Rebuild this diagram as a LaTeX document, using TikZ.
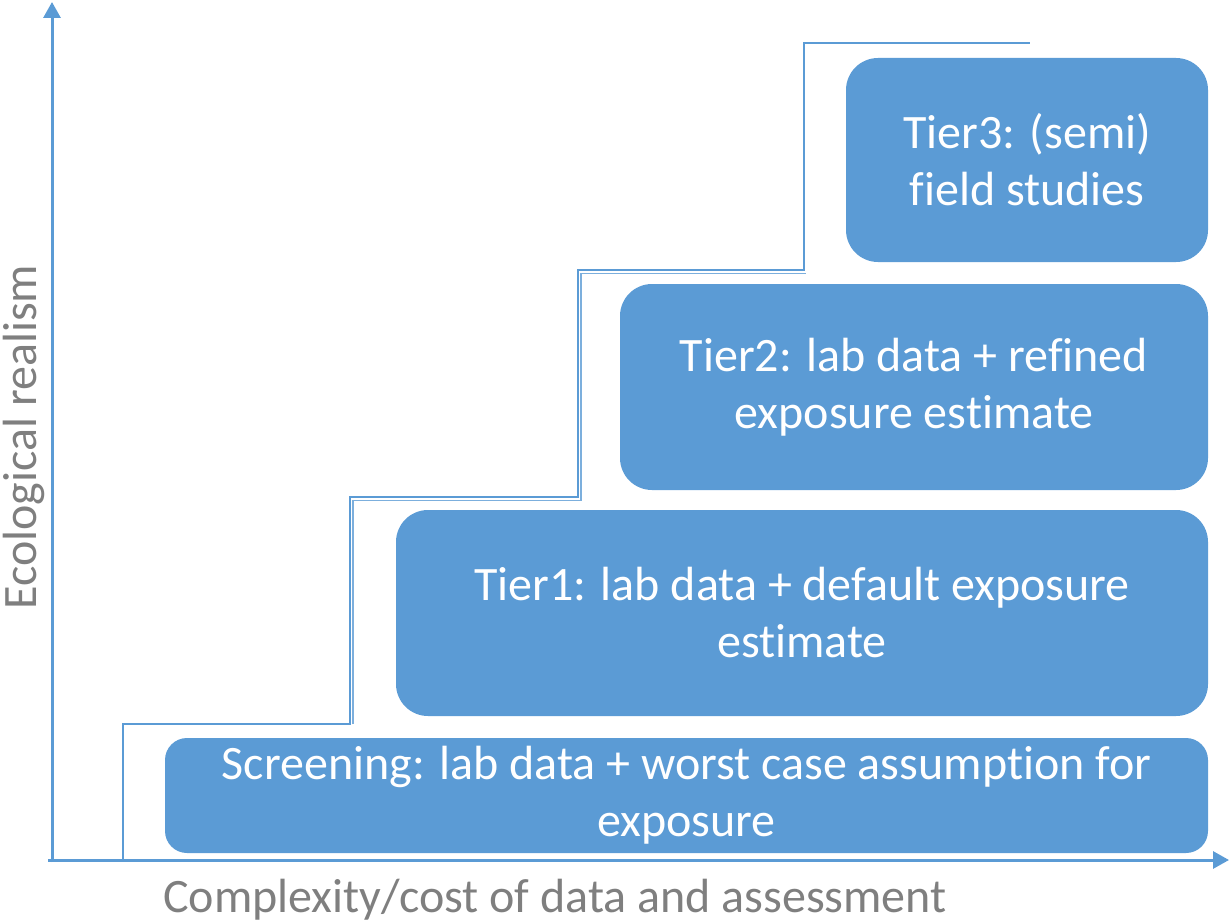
\documentclass[tikz,border=0pt]{standalone}
\usepackage{fontspec}
\setmainfont{Carlito}[Ligatures={NoCommon}]
\usetikzlibrary{arrows.meta}
\definecolor{tierblue}{HTML}{5B9BD5}
\definecolor{labelgray}{HTML}{7F7F7F}
\tikzset{
  tierbox/.style={draw=none, fill=tierblue, rounded corners=32pt, text=white,
    align=center, inner sep=0pt, font=\fontsize{48}{57}\selectfont},
  axisline/.style={draw=tierblue, line width=3pt, -{Triangle[width=17pt,length=16pt]}},
  stairline/.style={draw=tierblue, line width=2pt},
  stairthin/.style={draw=tierblue!80, line width=1.3pt},
  axislabel/.style={text=labelgray, inner sep=0pt, font=\fontsize{48}{56}\selectfont}
}
\begin{document}
\begin{tikzpicture}[x=1pt, y=-1pt]
\useasboundingbox (0,0) rectangle (1230,923);

% tier boxes
\node[tierbox, minimum width=362pt, minimum height=204pt] (t3) at (1027,160)
  {Tier3: (semi)\\field studies};
\node[tierbox, minimum width=588pt, minimum height=206pt] (t2) at (914,387)
  {Tier2: lab data + refined\\exposure estimate};
\node[tierbox, minimum width=812pt, minimum height=206pt] (t1) at (802,613)
  {Tier1: lab data + default exposure\\estimate};
\node[tierbox, rounded corners=22pt, minimum width=1043pt, minimum height=115pt] (t0) at (686.5,795.5)
  {Screening: lab data + worst case assumption for\\exposure};

% axes
\coordinate (origin) at (52,862);
\coordinate (ytip) at (52,2);
\coordinate (xstart) at (48,860);
\coordinate (xtip) at (1229,860);
\draw[axisline] (origin) -- (ytip);
\draw[axisline] (xstart) -- (xtip);

% staircase
\coordinate (s0) at (123,860);
\coordinate (s1) at (123,724);
\coordinate (s2) at (350,724);
\coordinate (s3) at (350,497);
\coordinate (s4) at (578,497);
\coordinate (s5) at (578,270);
\coordinate (s6) at (804,270);
\coordinate (s7) at (804,43);
\coordinate (s8) at (1030,43);
\draw[stairline] (s0) -- (s1) -- (s2) -- (s3) -- (s4) -- (s5) -- (s6) -- (s7) -- (s8);

% inner trace along the middle steps
\coordinate (d1) at (353,724);
\coordinate (d2) at (353,500.5);
\coordinate (d3) at (581,500.5);
\coordinate (d4) at (581,273.5);
\coordinate (d5) at (806,273.5);
\draw[stairthin] (d1) -- (d2) -- (d3) -- (d4) -- (d5);

% axis labels
\node[axislabel, anchor=south] (xlab) at (555,920) {Complexity/cost of data and assessment};
\node[axislabel, rotate=90, anchor=south] (ylab) at (45,437) {Ecological realism};
\end{tikzpicture}
\end{document}
